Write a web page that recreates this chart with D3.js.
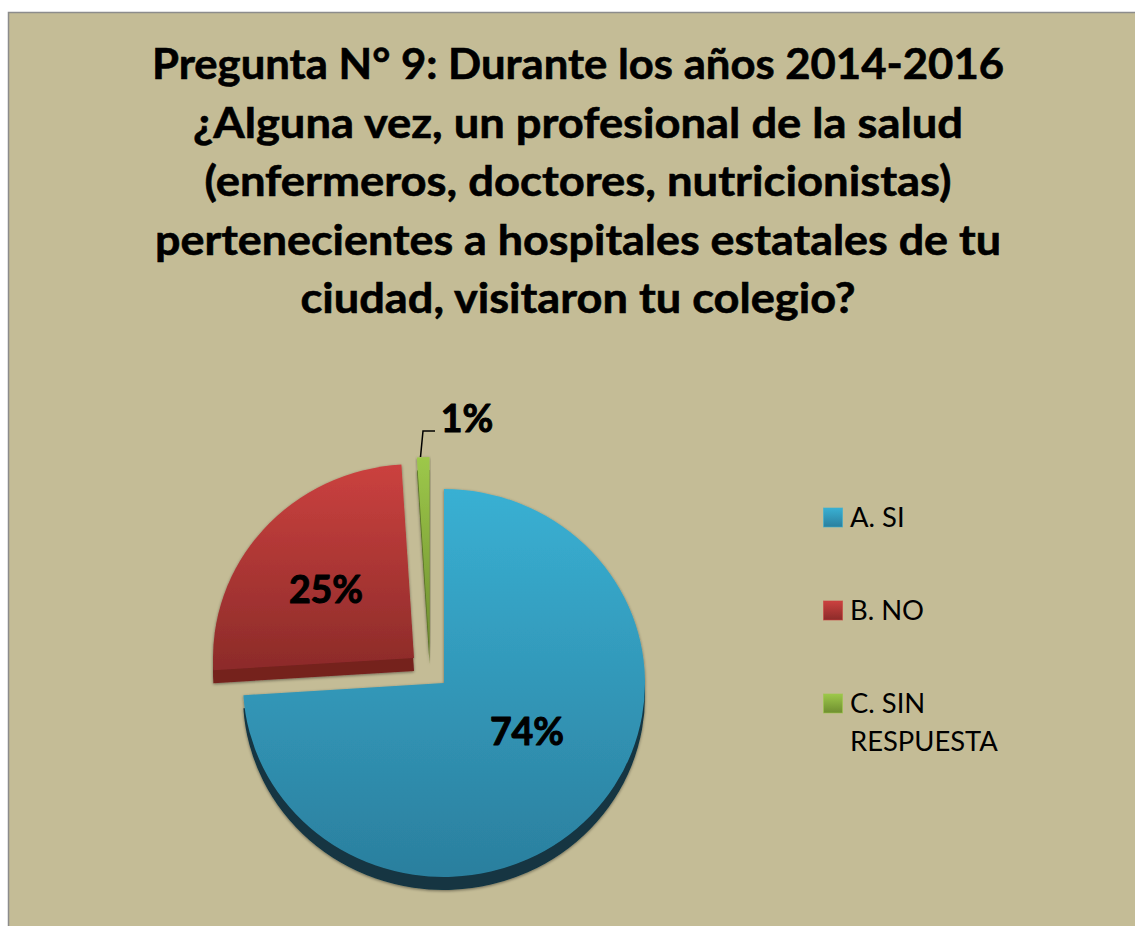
<!DOCTYPE html>
<html><head><meta charset="utf-8">
<style>html,body{margin:0;padding:0;background:#fff}svg{display:block}</style>
<script src="https://cdnjs.cloudflare.com/ajax/libs/d3/7.8.5/d3.min.js"></script>
</head><body><div id="chart"></div>
<script>
const categories = ["A. SI", "B. NO", "C. SIN RESPUESTA"];
const values = [74, 25, 1];
const titleLines = ["Pregunta N° 9: Durante los años 2014-2016","¿Alguna vez, un profesional de la salud","(enfermeros, doctores, nutricionistas)","pertenecientes a hospitales estatales de tu","ciudad, visitaron tu colegio?"];
const titleWidths = [852,770,747,846,555];
const topColors = [["#39B0D3","#2B7F9E"],["#CB413F","#8C2B29"],["#9DC84A","#6F8E30"]];
const sideColors = ["#123643","#74201E","#5a7327"];
const W=1135,H=926;
const svg=d3.select("#chart").append("svg").attr("width",W).attr("height",H);
const defs=svg.append("defs");
topColors.forEach((c,i)=>{const g=defs.append("linearGradient").attr("id","g"+i).attr("x1",0).attr("y1",0).attr("x2",0).attr("y2",1);
 g.append("stop").attr("offset",0).attr("stop-color",c[0]);g.append("stop").attr("offset",1).attr("stop-color",c[1]);});
const f=defs.append("filter").attr("id","sh").attr("x","-10%").attr("y","-10%").attr("width","120%").attr("height","120%");
f.append("feDropShadow").attr("dx",0).attr("dy",1).attr("stdDeviation",1.5).attr("flood-color","#000").attr("flood-opacity",.45);
svg.append("rect").attr("x",8.5).attr("y",12.5).attr("width",W).attr("height",H).attr("fill","#C4BC96").attr("stroke","#8c8c8c").attr("stroke-width",1.5);
const title=svg.append("g").attr("font-family","Lato, Carlito, sans-serif").attr("font-weight",700).attr("font-size",42).attr("text-anchor","middle").attr("fill","#000").attr("stroke","#000").attr("stroke-width",0.6);
title.selectAll("text").data(titleLines).join("text").attr("x",578).attr("y",(d,i)=>79+i*58.5)
 .attr("textLength",(d,i)=>titleWidths[i]).attr("lengthAdjust","spacingAndGlyphs").text(d=>d);
const rx=201, ky=0.965, depth=13;
const apex=[[444,683],[414,658],[429.5,651]];
const pie=d3.pie().sort(null).value(d=>d)(values);
const arc=d3.arc().innerRadius(0).outerRadius(rx);
const order=[1,2,0];
const slices=svg.selectAll("g.slice").data(order).join("g").attr("class","slice").attr("filter","url(#sh)");
slices.append("path").attr("transform",i=>`translate(${apex[i][0]},${apex[i][1]+depth}) scale(1,${ky})`).attr("d",i=>arc(pie[i])).attr("fill",i=>sideColors[i]);
slices.append("path").attr("transform",i=>`translate(${apex[i][0]},${apex[i][1]}) scale(1,${ky})`).attr("d",i=>arc(pie[i])).attr("fill",i=>`url(#g${i})`);
// data labels
const labelPos=[[527,745],[326,603],[467,432]];
svg.append("g").attr("font-family","Lato, sans-serif").attr("font-weight",700).attr("font-size",37.5).attr("text-anchor","middle").attr("fill","#000")
 .attr("stroke","#000").attr("stroke-width",1).attr("stroke-linejoin","round")
 .selectAll("text").data(values).join("text").attr("x",(d,i)=>labelPos[i][0]).attr("y",(d,i)=>labelPos[i][1]).text(d=>d+"%");
// leader line
svg.append("path").attr("d",d3.line()([[420.5,457],[423,431],[435,431]])).attr("fill","none").attr("stroke","#000").attr("stroke-width",1.5);
// legend
const legY=[517,610,703];
const leg=svg.append("g").attr("font-family","Lato, Carlito, sans-serif").attr("font-size",27.4).attr("fill","#000");
categories.forEach((c,i)=>{
 leg.append("rect").attr("x",823.5).attr("y",legY[i]-9).attr("width",19).attr("height",19).attr("fill",`url(#g${i})`).attr("stroke",topColors[i][0]).attr("stroke-opacity",.6);
 const words = i===2 ? ["C. SIN","RESPUESTA"] : [c];
 words.forEach((w,j)=>leg.append("text").attr("x",850).attr("y",legY[i]+10+j*38).text(w));
});
</script></body></html>
